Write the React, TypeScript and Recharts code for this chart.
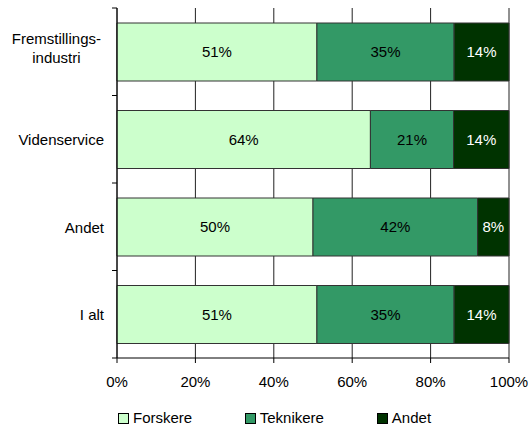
import React from 'react';
import { BarChart, Bar, XAxis, YAxis, CartesianGrid, LabelList, Legend } from 'recharts';

const categories = ['Fremstillings-\nindustri', 'Videnservice', 'Andet', 'I alt'];
const forskere = [51, 64, 50, 51];
const teknikere = [35, 21, 42, 35];
const andet = [14, 14, 8, 14];
const xTicks = [0, 0.2, 0.4, 0.6, 0.8, 1];

const seriesNames = ['Forskere', 'Teknikere', 'Andet'];
const seriesColors = ['#CCFFCC', '#339966', '#003300'];

const data = categories.map((c, i) => ({
  name: c,
  forskere: forskere[i],
  teknikere: teknikere[i],
  andet: andet[i],
}));

const FONT = '"Liberation Sans", Arial, sans-serif';
const W = 530;
const H = 425;
const MARGIN = { top: 8, right: 21, bottom: 0, left: 0 };
const YAXIS_W = 117;
const XAXIS_H = 53;
const LEGEND_H = 14;
const PLOT_H = H - MARGIN.top - MARGIN.bottom - XAXIS_H - LEGEND_H;
const BAND = PLOT_H / categories.length;

const YTick = (props: any) => {
  const { x, y, payload, index } = props;
  const lines = String(payload.value).split('\n');
  const textX = x - 13;
  const tickLines = [
    <line key="t" x1={x - 5} x2={x} y1={y - BAND / 2} y2={y - BAND / 2} stroke="#000" />,
  ];
  if (index === categories.length - 1) {
    tickLines.push(
      <line key="b" x1={x - 5} x2={x} y1={y + BAND / 2} y2={y + BAND / 2} stroke="#000" />
    );
  }
  let text;
  if (lines.length === 1) {
    text = (
      <text x={textX} y={y + 6} textAnchor="end" fontSize={15} fontFamily={FONT} fill="#000">
        {lines[0]}
      </text>
    );
  } else {
    const longest = Math.max(...lines.map((l) => l.length));
    const cx = textX - (longest * 6.8) / 2;
    text = (
      <text textAnchor="middle" fontSize={15} fontFamily={FONT} fill="#000">
        {lines.map((l, i) => (
          <tspan key={i} x={cx} y={y - 8 + i * 19}>
            {l}
          </tspan>
        ))}
      </text>
    );
  }
  return (
    <g>
      {tickLines}
      {text}
    </g>
  );
};

const LegendContent = () => (
  <div
    style={{
      height: LEGEND_H,
      display: 'flex',
      alignItems: 'flex-start',
      paddingLeft: 118,
      fontFamily: FONT,
      fontSize: 15,
      lineHeight: '14px',
      color: '#000',
    }}
  >
    {seriesNames.map((n, i) => (
      <div
        key={n}
        style={{ display: 'flex', alignItems: 'center', width: i === 0 ? 140 : 146 }}
      >
        <span
          style={{
            display: 'inline-block',
            width: 9,
            height: 9,
            background: seriesColors[i],
            border: '1px solid #000',
            marginRight: 4,
            marginTop: 1,
          }}
        />
        <span>{n}</span>
      </div>
    ))}
  </div>
);

export default function App() {
  return (
    <div style={{ position: 'absolute', left: 0, top: 0, width: W, height: H, background: '#fff', overflow: 'visible' }}>
      <BarChart
        width={W}
        height={H}
        data={data}
        layout="vertical"
        stackOffset="expand"
        margin={MARGIN}
        barSize={58}
        style={{ overflow: 'visible' }}
      >
        <CartesianGrid horizontal={false} vertical stroke="#222" strokeOpacity={1} />
        <XAxis
          type="number"
          domain={[0, 1]}
          ticks={xTicks}
          tickFormatter={(v: number) => `${Math.round(v * 100)}%`}
          axisLine={{ stroke: '#000' }}
          tickLine={{ stroke: '#000' }}
          tickSize={5}
          tickMargin={13}
          height={XAXIS_H}
          tick={{ fontSize: 15, fontFamily: FONT, fill: '#000' }}
          interval={0}
        />
        <XAxis
          xAxisId="top"
          orientation="top"
          type="number"
          domain={[0, 1]}
          tick={false}
          tickLine={false}
          axisLine={{ stroke: '#000' }}
          height={0}
        />
        <YAxis
          type="category"
          dataKey="name"
          width={YAXIS_W}
          axisLine={{ stroke: '#000' }}
          tickLine={false}
          tickSize={0}
          tickMargin={0}
          tick={<YTick />}
          interval={0}
        />
        <Legend verticalAlign="bottom" height={LEGEND_H} content={<LegendContent />} />
        <Bar dataKey="forskere" name="Forskere" stackId="a" fill={seriesColors[0]} stroke="#333" strokeWidth={1} isAnimationActive={false}>
          <LabelList dataKey="forskere" position="center" formatter={(v: any) => `${v}%`} fill="#000" fontSize={15} fontFamily={FONT} />
        </Bar>
        <Bar dataKey="teknikere" name="Teknikere" stackId="a" fill={seriesColors[1]} stroke="#333" strokeWidth={1} isAnimationActive={false}>
          <LabelList dataKey="teknikere" position="center" formatter={(v: any) => `${v}%`} fill="#000" fontSize={15} fontFamily={FONT} />
        </Bar>
        <Bar dataKey="andet" name="Andet" stackId="a" fill={seriesColors[2]} stroke="#333" strokeWidth={1} isAnimationActive={false}>
          <LabelList dataKey="andet" position="center" formatter={(v: any) => `${v}%`} fill="#fff" fontSize={15} fontFamily={FONT} />
        </Bar>
      </BarChart>
    </div>
  );
}
